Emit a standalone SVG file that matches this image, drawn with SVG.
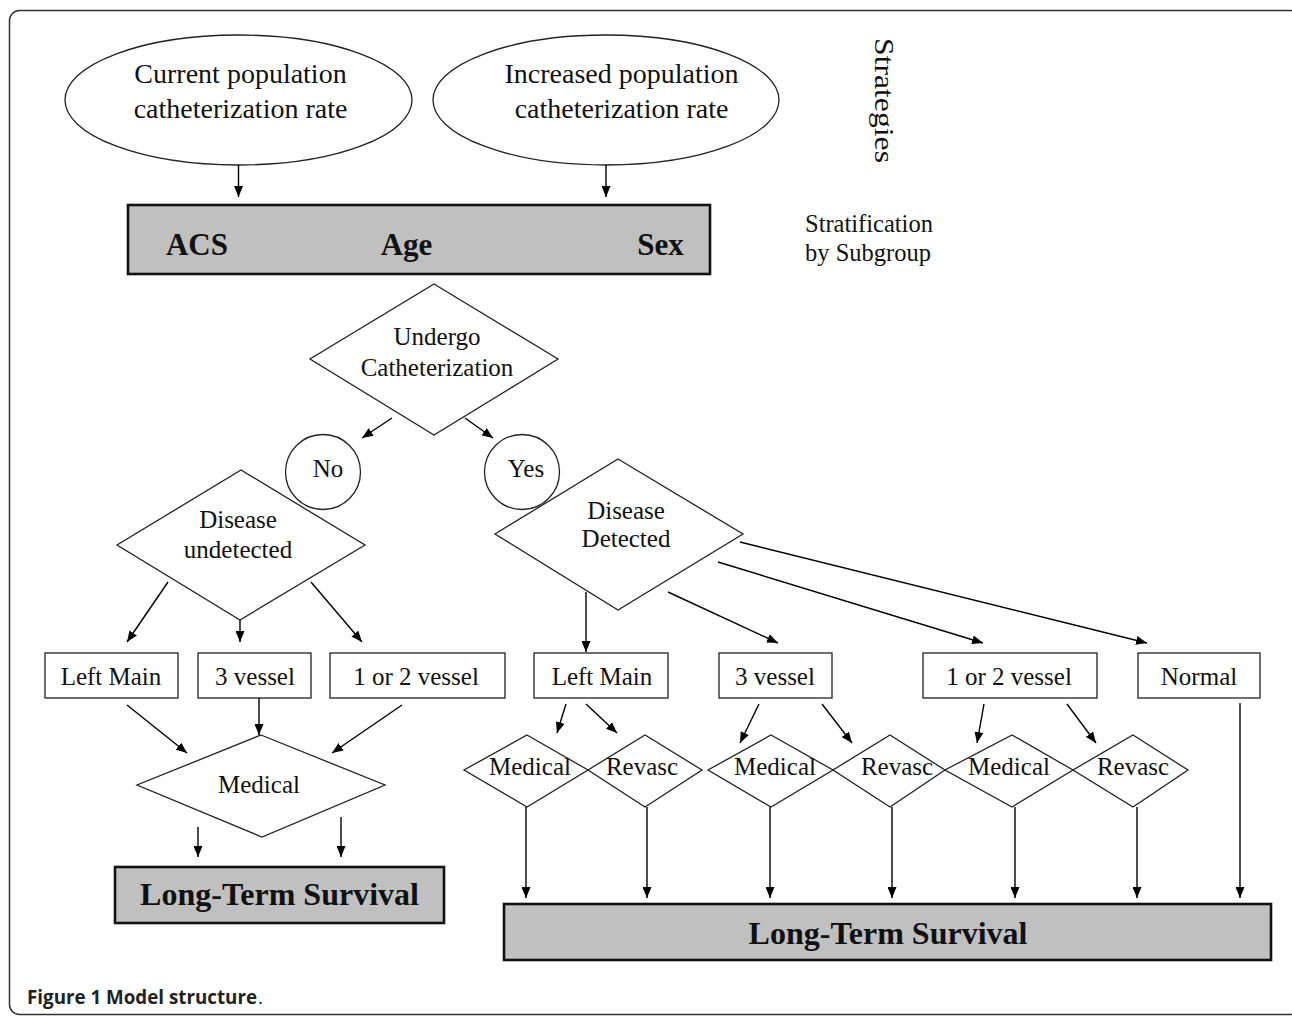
<svg xmlns="http://www.w3.org/2000/svg" width="1292" height="1016" viewBox="0 0 1292 1016">
<defs>
<marker id="ah" markerUnits="userSpaceOnUse" markerWidth="11" markerHeight="9" refX="11" refY="4.5" orient="auto">
<path d="M0,0 L11,4.5 L0,9 z" fill="#000"/>
</marker>
<style>
.t{font-family:"Liberation Serif","Times New Roman",serif;font-size:25px;fill:#111;text-anchor:middle}
.tb{font-family:"Liberation Serif","Times New Roman",serif;font-weight:bold;fill:#111;text-anchor:middle}
.s{fill:none;stroke:#222;stroke-width:1.3}
.g{fill:#c0c0c0;stroke:#111;stroke-width:2.6}
.c line{stroke:#000;stroke-width:1.4;marker-end:url(#ah)}
.cap{font-family:"Open Sans","Noto Sans",sans-serif;font-size:19px;fill:#222}
</style>
</defs>
<rect width="1292" height="1016" fill="#fff"/>
<rect x="9.5" y="10.5" width="1290" height="1004" rx="10" fill="none" stroke="#333" stroke-width="1.5"/>

<g id="ellipse-current">
<ellipse class="s" cx="238.5" cy="100" rx="173.5" ry="65"/>
<text class="t" x="240.5" y="83" style="font-size:28px">Current population</text>
<text class="t" x="240.5" y="118" style="font-size:28px">catheterization rate</text>
</g>
<g id="ellipse-increased">
<ellipse class="s" cx="606" cy="100" rx="173" ry="65"/>
<text class="t" x="621.5" y="83" style="font-size:28px">Increased population</text>
<text class="t" x="621.5" y="118" style="font-size:28px">catheterization rate</text>
</g>
<g id="label-strategies">
<text transform="translate(875,38) rotate(90)" x="0" y="0" textLength="125" lengthAdjust="spacingAndGlyphs" style="font-family:'Liberation Serif','Times New Roman',serif;font-size:28px;fill:#111">Strategies</text>
</g>
<g id="stratification-box">
<rect class="g" x="128" y="205" width="582" height="69"/>
<text class="tb" x="197" y="255" style="font-size:31px">ACS</text>
<text class="tb" x="406.5" y="255" style="font-size:31px">Age</text>
<text class="tb" x="660.5" y="255" style="font-size:31px">Sex</text>
</g>
<g id="label-stratification">
<text x="805" y="232" style="font-family:'Liberation Serif','Times New Roman',serif;font-size:24.5px;fill:#111">Stratification</text>
<text x="805" y="261" style="font-family:'Liberation Serif','Times New Roman',serif;font-size:24.5px;fill:#111">by Subgroup</text>
</g>
<g id="undergo">
<polygon class="s" points="434,284 558,359 434,435 310,359"/>
<text class="t" x="437" y="345">Undergo</text>
<text class="t" x="437" y="376">Catheterization</text>
</g>
<g id="no">
<circle class="s" cx="323" cy="472" r="37.5"/>
<text class="t" x="328" y="477">No</text>
</g>
<g id="yes">
<circle class="s" cx="522" cy="472" r="37.5"/>
<text class="t" x="526" y="477">Yes</text>
</g>
<g id="disease-undetected">
<polygon class="s" points="241,470 365,545 240,620 117,545"/>
<text class="t" x="238" y="528">Disease</text>
<text class="t" x="238" y="558">undetected</text>
</g>
<g id="disease-detected">
<polygon class="s" points="618,459 743,534 618,610 495,534"/>
<text class="t" x="626" y="519">Disease</text>
<text class="t" x="626" y="547">Detected</text>
</g>
<g id="left-main-l"><rect class="s" x="45" y="653" width="133" height="45"/><text class="t" x="111" y="685">Left Main</text></g>
<g id="3-vessel-l"><rect class="s" x="198" y="653" width="113" height="45"/><text class="t" x="255" y="685">3 vessel</text></g>
<g id="12-vessel-l"><rect class="s" x="330" y="653" width="175" height="45"/><text class="t" x="416" y="685">1 or 2 vessel</text></g>
<g id="medical-l">
<polygon class="s" points="261,735 385,785 262,837 137,785"/>
<text class="t" x="259" y="793">Medical</text>
</g>
<g id="lts-left">
<rect class="g" x="115" y="867" width="329" height="56"/>
<text class="tb" x="279.5" y="905" style="font-size:32px">Long-Term Survival</text>
</g>
<g id="left-main-r"><rect class="s" x="534" y="653" width="134" height="45"/><text class="t" x="602" y="685">Left Main</text></g>
<g id="3-vessel-r"><rect class="s" x="719" y="653" width="113" height="45"/><text class="t" x="775" y="685">3 vessel</text></g>
<g id="12-vessel-r"><rect class="s" x="923" y="653" width="174" height="45"/><text class="t" x="1009" y="685">1 or 2 vessel</text></g>
<g id="normal"><rect class="s" x="1138" y="653" width="122" height="45"/><text class="t" x="1199" y="685">Normal</text></g>
<g id="medical-1"><polygon class="s" points="527,735 588,770 527,807 464,770"/><text class="t" x="530" y="775">Medical</text></g>
<g id="revasc-1"><polygon class="s" points="645,735 702,770 645,807 588,770"/><text class="t" x="642" y="775">Revasc</text></g>
<g id="medical-2"><polygon class="s" points="771,735 833,770 771,807 708,770"/><text class="t" x="775" y="775">Medical</text></g>
<g id="revasc-2"><polygon class="s" points="890,735 945,770 890,807 833,770"/><text class="t" x="897" y="775">Revasc</text></g>
<g id="medical-3"><polygon class="s" points="1012,735 1073,770 1012,807 945,770"/><text class="t" x="1009" y="775">Medical</text></g>
<g id="revasc-3"><polygon class="s" points="1133,735 1188,770 1133,807 1073,770"/><text class="t" x="1133" y="775">Revasc</text></g>
<g id="lts-right">
<rect class="g" x="504" y="904" width="767" height="56"/>
<text class="tb" x="888" y="944" style="font-size:32px">Long-Term Survival</text>
</g>

<g id="connectors" class="c">
<line x1="238.5" y1="165" x2="238.5" y2="197"/>
<line x1="606" y1="165" x2="606" y2="197"/>
<line x1="392" y1="418" x2="362" y2="438"/>
<line x1="465" y1="418" x2="493" y2="438"/>
<line x1="168" y1="582" x2="127" y2="642"/>
<line x1="240" y1="620" x2="240" y2="642"/>
<line x1="311" y1="582" x2="362" y2="642"/>
<line x1="127" y1="705" x2="187" y2="753"/>
<line x1="259" y1="698" x2="259" y2="735"/>
<line x1="402" y1="705" x2="332" y2="753"/>
<line x1="198" y1="827" x2="198" y2="857"/>
<line x1="341" y1="817" x2="341" y2="857"/>
<line x1="586" y1="592" x2="586" y2="652"/>
<line x1="668" y1="592" x2="778" y2="643"/>
<line x1="718" y1="562" x2="983" y2="643"/>
<line x1="740" y1="542" x2="1147" y2="643"/>
<line x1="566" y1="704" x2="557" y2="733"/>
<line x1="586" y1="704" x2="617" y2="733"/>
<line x1="759" y1="704" x2="740" y2="743"/>
<line x1="822" y1="704" x2="852" y2="743"/>
<line x1="984" y1="704" x2="977" y2="743"/>
<line x1="1067" y1="704" x2="1096" y2="743"/>
<line x1="526" y1="807" x2="526" y2="898"/>
<line x1="647" y1="807" x2="647" y2="898"/>
<line x1="770" y1="807" x2="770" y2="898"/>
<line x1="892" y1="807" x2="892" y2="898"/>
<line x1="1015" y1="807" x2="1015" y2="898"/>
<line x1="1137" y1="807" x2="1137" y2="898"/>
<line x1="1240" y1="703" x2="1240" y2="898"/>
</g>

<g id="caption">
<text class="cap" x="27" y="1004" textLength="230" lengthAdjust="spacingAndGlyphs" font-weight="bold">Figure 1 Model structure</text>
<text class="cap" x="258" y="1004">.</text>
</g>
</svg>
